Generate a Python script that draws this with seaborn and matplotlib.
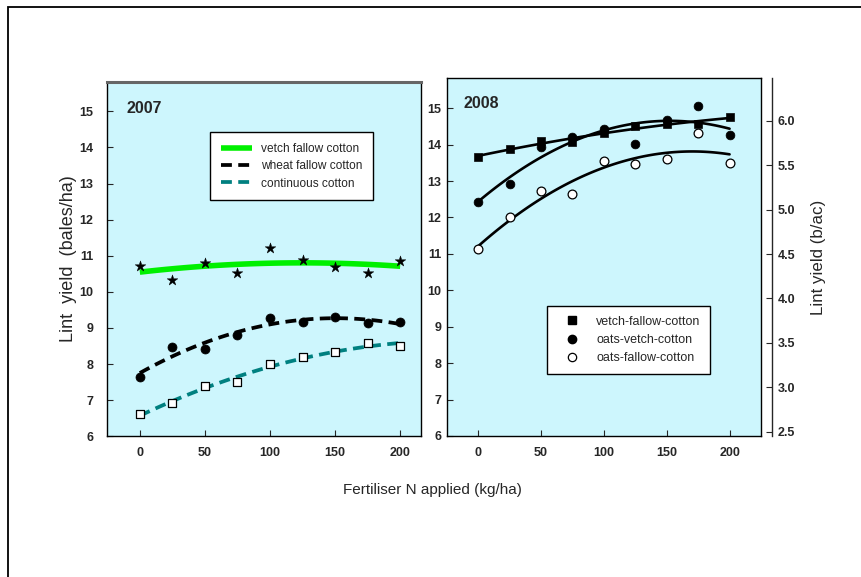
import numpy as np
import pandas as pd
import matplotlib
matplotlib.use("Agg")
import matplotlib.pyplot as plt
from matplotlib.patches import Rectangle
from matplotlib.lines import Line2D
import seaborn as sns

# Fertiliser N rates (kg/ha)
n_rate = [0, 25, 50, 75, 100, 125, 150, 175, 200]

# 2007 lint yields (bales/ha)
vetch_fallow_2007 = [10.72, 10.33, 10.81, 10.52, 11.21, 10.87, 10.68, 10.52, 10.86]
wheat_fallow_2007 = [7.65, 8.48, 8.41, 8.80, 9.27, 9.17, 9.31, 9.13, 9.16]
continuous_2007 = [6.63, 6.91, 7.39, 7.49, 7.99, 8.20, 8.33, 8.59, 8.50]

# 2008 lint yields (bales/ha)
vetch_fallow_2008 = [13.67, 13.88, 14.10, 14.06, 14.32, 14.50, 14.56, 14.56, 14.77]
oats_vetch_2008 = [12.42, 12.92, 13.93, 14.22, 14.43, 14.03, 14.68, 15.05, 14.25]
oats_fallow_2008 = [11.14, 12.00, 12.73, 12.65, 13.55, 13.47, 13.60, 14.32, 13.49]

labels_2007 = ["vetch fallow cotton", "wheat fallow cotton", "continuous cotton"]
labels_2008 = ["vetch-fallow-cotton", "oats-vetch-cotton", "oats-fallow-cotton"]
y_ticks = [6, 7, 8, 9, 10, 11, 12, 13, 14, 15]
x_ticks = [0, 50, 100, 150, 200]
bac_ticks = [2.5, 3.0, 3.5, 4.0, 4.5, 5.0, 5.5, 6.0]

sns.set_style("ticks")
plt.rcParams["font.family"] = ["Liberation Sans", "DejaVu Sans"]

W, H = 861, 577
fig = plt.figure(figsize=(W / 100, H / 100), dpi=100)
bg = "#cdf6fd"

# outer frame
fig.add_artist(Rectangle((8 / W, -0.05), 1.2, 1.05 - 7.5 / H, transform=fig.transFigure,
                         fill=False, edgecolor="black", linewidth=1.3))

ax1 = fig.add_axes([107.3 / W, 1 - 436.3 / H, 313.7 / W, 354.6 / H])
ax2 = fig.add_axes([446.7 / W, 1 - 436.0 / H, 314.3 / W, 357.7 / H])

df07 = pd.DataFrame({"N": n_rate, "v": vetch_fallow_2007, "w": wheat_fallow_2007, "c": continuous_2007})
df08 = pd.DataFrame({"N": n_rate, "v": vetch_fallow_2008, "o": oats_vetch_2008, "f": oats_fallow_2008})

# ---- 2007 panel ----
line_styles_07 = [
    ("v", dict(color="#00f000", lw=4.0, solid_capstyle="butt")),
    ("w", dict(color="black", lw=2.7, dashes=(2.9, 1.7))),
    ("c", dict(color="#008080", lw=2.7, dashes=(2.9, 1.7))),
]
handles07 = []
for (col, kw), lab in zip(line_styles_07, labels_2007):
    sns.regplot(data=df07, x="N", y=col, order=2, ci=None, scatter=False, ax=ax1,
                line_kws=dict(zorder=2, **kw))
    handles07.append(Line2D([], [], label=lab, **kw))

sns.scatterplot(data=df07, x="N", y="v", marker="*", s=65, color="black", edgecolor="black",
                linewidth=0.3, ax=ax1, zorder=3)
sns.scatterplot(data=df07, x="N", y="w", marker="o", s=42, color="black", edgecolor="black",
                ax=ax1, zorder=3)
sns.scatterplot(data=df07, x="N", y="c", marker="s", s=38, color="white", edgecolor="black",
                linewidth=0.9, ax=ax1, zorder=3)

leg1 = ax1.legend(handles=handles07, loc="upper left", bbox_to_anchor=(0.327, 0.858),
                  frameon=True, fancybox=False, edgecolor="black", facecolor="white",
                  fontsize=8.6, handlelength=2.6, borderpad=0.9, labelspacing=0.45,
                  handletextpad=0.8, borderaxespad=0)
leg1.get_frame().set_linewidth(1.0)
leg1.get_frame().set_alpha(1)

ax1.text(0.06, 0.925, "2007", transform=ax1.transAxes, fontsize=11.5, fontweight="bold",
         ha="left", va="center")

# ---- 2008 panel ----
for col in ["v", "o", "f"]:
    sns.regplot(data=df08, x="N", y=col, order=2, ci=None, scatter=False, ax=ax2,
                line_kws=dict(color="black", lw=1.9, zorder=2))
sns.scatterplot(data=df08, x="N", y="v", marker="s", s=34, color="black", edgecolor="black",
                ax=ax2, zorder=3)
sns.scatterplot(data=df08, x="N", y="o", marker="o", s=40, color="black", edgecolor="black",
                ax=ax2, zorder=3)
sns.scatterplot(data=df08, x="N", y="f", marker="o", s=40, color="white", edgecolor="black",
                linewidth=0.9, ax=ax2, zorder=3)

handles08 = [
    Line2D([], [], ls="none", marker="s", ms=5.5, mfc="black", mec="black", label=labels_2008[0]),
    Line2D([], [], ls="none", marker="o", ms=6, mfc="black", mec="black", label=labels_2008[1]),
    Line2D([], [], ls="none", marker="o", ms=6, mfc="white", mec="black", mew=0.9, label=labels_2008[2]),
]
leg2 = ax2.legend(handles=handles08, loc="upper left", bbox_to_anchor=(0.32, 0.364),
                  frameon=True, fancybox=False, edgecolor="black", facecolor="white",
                  fontsize=9.0, handlelength=2.4, borderpad=0.8, labelspacing=0.5,
                  handletextpad=0.7, borderaxespad=0)
leg2.get_frame().set_linewidth(1.0)
leg2.get_frame().set_alpha(1)

ax2.text(0.055, 0.93, "2008", transform=ax2.transAxes, fontsize=11.5, fontweight="bold",
         ha="left", va="center")

# ---- common axis styling ----
for ax, xmax in [(ax1, 216), (ax2, 225)]:
    ax.set_facecolor(bg)
    ax.set_xlim(-25, xmax)
    ax.set_ylim(6, 15.82)
    ax.set_xticks(x_ticks)
    ax.set_yticks(y_ticks)
    ax.set_xlabel("")
    ax.set_ylabel("")
    ax.tick_params(direction="in", length=4, width=0.8, labelsize=9, pad=8)
    for lab in ax.get_xticklabels() + ax.get_yticklabels():
        lab.set_fontweight("bold")
    for s in ax.spines.values():
        s.set_visible(True)
        s.set_linewidth(1.0)
        s.set_color("black")
ax1.tick_params(axis="y", pad=10)
ax2.tick_params(axis="y", pad=4)
ax1.spines["top"].set_color("#666666")
ax1.spines["top"].set_linewidth(2.2)

# right-hand axis in bales per acre
ax3 = ax2.twinx()
ax3.set_ylim(2.45, 6.48)
ax3.set_yticks(bac_ticks)
ax3.set_yticklabels([f"{t:.1f}" for t in bac_ticks])
ax3.spines["right"].set_position(("outward", 8))
for k in ["top", "bottom", "left"]:
    ax3.spines[k].set_visible(False)
ax3.spines["right"].set_linewidth(1.0)
ax3.tick_params(axis="y", direction="in", length=4, width=0.8, labelsize=9, pad=4)
for lab in ax3.get_yticklabels():
    lab.set_fontweight("bold")
ax3.set_ylabel("Lint yield (b/ac)", fontsize=12.2, labelpad=11)

ax1.set_ylabel("Lint  yield  (bales/ha)", fontsize=13, labelpad=2)
fig.text(432 / W, 1 - 490 / H, "Fertiliser N applied (kg/ha)", fontsize=11,
         ha="center", va="center")

fig.savefig("out.png", dpi=100)
